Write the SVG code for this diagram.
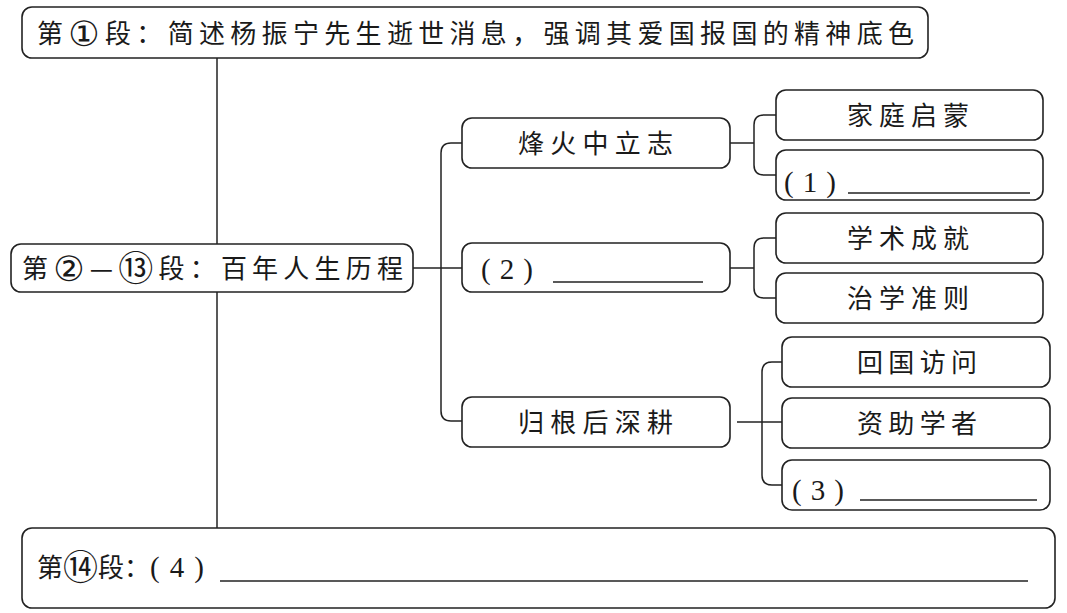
<svg xmlns="http://www.w3.org/2000/svg" width="1067" height="613" viewBox="0 0 1067 613">
<style>
.box{fill:#fff;stroke:#222;stroke-width:1.6}
.ln{fill:none;stroke:#222;stroke-width:1.5}
.t{font-family:"Noto Sans CJK SC","Noto Sans",sans-serif;font-size:26px;fill:#1a1a1a}
.c{font-family:"DejaVu Sans","Noto Sans CJK SC",sans-serif;font-size:35px;baseline-shift:-3px}
.n{font-family:"Liberation Serif","Noto Sans CJK SC",serif;font-size:29px;fill:#1a1a1a}
.ul{stroke:#222;stroke-width:1.6}
</style>
<rect width="1067" height="613" fill="#fff"/>
<g id="connectors">
<path class="ln" d="M217 58 V528"/>
<path class="ln" d="M413 268 H462"/>
<path class="ln" d="M462 143 H451 Q441 143 441 153 V411 Q441 421 451 421 H462"/>
<path class="ln" d="M730 143 H754"/>
<path class="ln" d="M776 115 H764 Q754 115 754 125 V165 Q754 175 764 175 H776"/>
<path class="ln" d="M730 268 H754"/>
<path class="ln" d="M776 238 H764 Q754 238 754 248 V288 Q754 298 764 298 H776"/>
<path class="ln" d="M737 422 H782"/>
<path class="ln" d="M782 362 H772 Q762 362 762 372 V475 Q762 485 772 485 H782"/>
</g>
<g id="n-top">
<rect class="box" x="22" y="7" width="906" height="51" rx="10"/>
<text class="t" x="37" y="43" font-size="27" textLength="877" lengthAdjust="spacing">第<tspan class="c">①</tspan>段：简述杨振宁先生逝世消息，强调其爱国报国的精神底色</text>
</g>
<g id="n-mid">
<rect class="box" x="11" y="244" width="402" height="48" rx="10"/>
<text class="t" x="22" y="278" textLength="381" lengthAdjust="spacing">第<tspan class="c">②</tspan>—<tspan class="c">⑬</tspan>段：百年人生历程</text>
</g>
<g id="n-fenghuo">
<rect class="box" x="462" y="118" width="268" height="50" rx="10"/>
<text class="t" x="518" y="153" textLength="155" lengthAdjust="spacing">烽火中立志</text>
</g>
<g id="n-2">
<rect class="box" x="462" y="243" width="268" height="49" rx="10"/>
<text class="n" x="481" y="279" letter-spacing="9">(2)</text>
<line class="ul" x1="553" y1="282" x2="703" y2="282"/>
</g>
<g id="n-guigen">
<rect class="box" x="462" y="397" width="268" height="50" rx="10"/>
<text class="t" x="518" y="432" textLength="155" lengthAdjust="spacing">归根后深耕</text>
</g>
<g id="n-jiating">
<rect class="box" x="776" y="90" width="267" height="50" rx="10"/>
<text class="t" x="847" y="125" textLength="122" lengthAdjust="spacing">家庭启蒙</text>
</g>
<g id="n-1">
<rect class="box" x="776" y="150" width="267" height="50" rx="10"/>
<text class="n" x="784" y="192" letter-spacing="9">(1)</text>
<line class="ul" x1="848" y1="193" x2="1030" y2="193"/>
</g>
<g id="n-xueshu">
<rect class="box" x="776" y="213" width="267" height="50" rx="10"/>
<text class="t" x="847" y="248" textLength="122" lengthAdjust="spacing">学术成就</text>
</g>
<g id="n-zhixue">
<rect class="box" x="776" y="273" width="267" height="50" rx="10"/>
<text class="t" x="847" y="308" textLength="122" lengthAdjust="spacing">治学准则</text>
</g>
<g id="n-huiguo">
<rect class="box" x="782" y="337" width="268" height="50" rx="10"/>
<text class="t" x="857" y="372" textLength="120" lengthAdjust="spacing">回国访问</text>
</g>
<g id="n-zizhu">
<rect class="box" x="782" y="398" width="268" height="50" rx="10"/>
<text class="t" x="857" y="433" textLength="120" lengthAdjust="spacing">资助学者</text>
</g>
<g id="n-3">
<rect class="box" x="782" y="460" width="268" height="50" rx="10"/>
<text class="n" x="792" y="500" letter-spacing="9">(3)</text>
<line class="ul" x1="860" y1="500" x2="1037" y2="500"/>
</g>
<g id="n-bottom">
<rect class="box" x="22" y="528" width="1033" height="80" rx="10"/>
<text class="t" x="37" y="577" font-size="25">第<tspan class="c" font-size="31">⑭</tspan>段：<tspan class="n" x="150" letter-spacing="10">(4)</tspan></text>
<line class="ul" x1="220" y1="581" x2="1028" y2="581"/>
</g>
</svg>
